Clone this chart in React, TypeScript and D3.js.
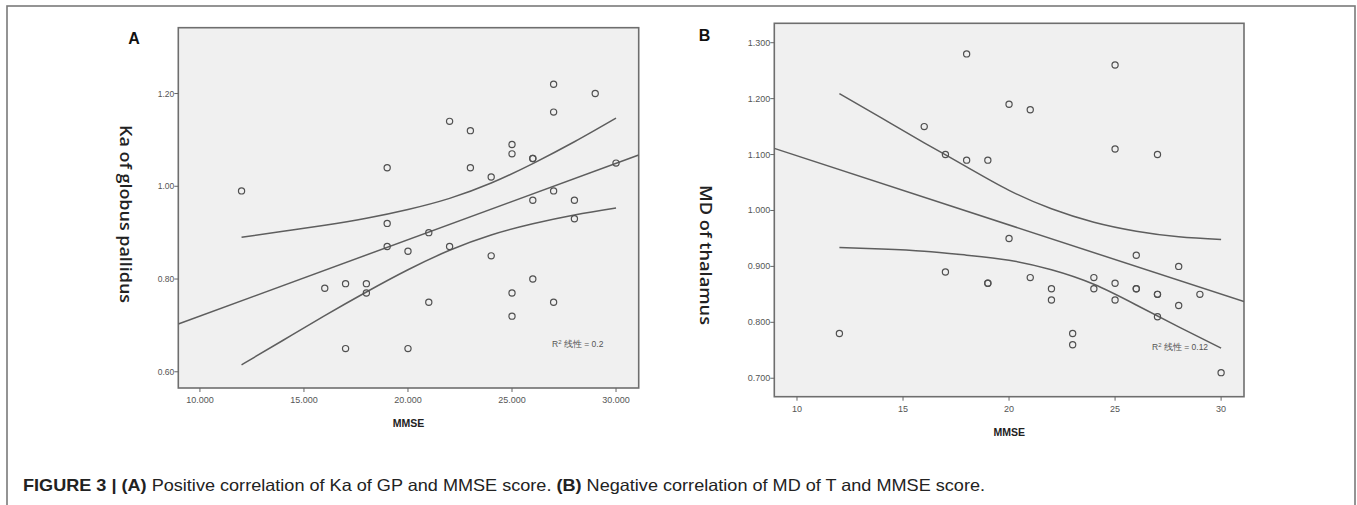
import * as d3 from "d3";
import React from "react";

// panel A: Ka of globus pallidus vs MMSE
const mmseA = [12, 16, 17, 17, 18, 18, 19, 19, 19, 20, 20, 21, 21, 22, 22, 23, 23, 24, 24, 25, 25, 25, 25, 26, 26, 26, 26, 27, 27, 27, 27, 28, 28, 29, 30];
const kaGP = [0.99, 0.78, 0.79, 0.65, 0.79, 0.77, 1.04, 0.92, 0.87, 0.86, 0.65, 0.9, 0.75, 1.14, 0.87, 1.12, 1.04, 1.02, 0.85, 1.09, 1.07, 0.77, 0.72, 1.06, 1.06, 0.97, 0.8, 1.22, 1.16, 0.99, 0.75, 0.97, 0.93, 1.2, 1.05];

// panel B: MD of thalamus vs MMSE
const mmseB = [12, 16, 17, 17, 18, 18, 19, 19, 19, 20, 20, 21, 21, 22, 22, 23, 23, 24, 24, 25, 25, 25, 25, 26, 26, 26, 27, 27, 27, 27, 28, 28, 29, 30];
const mdT = [0.78, 1.15, 1.1, 0.89, 1.28, 1.09, 1.09, 0.87, 0.87, 1.19, 0.95, 1.18, 0.88, 0.86, 0.84, 0.78, 0.76, 0.88, 0.86, 1.26, 1.11, 0.87, 0.84, 0.92, 0.86, 0.86, 1.1, 0.85, 0.85, 0.81, 0.9, 0.83, 0.85, 0.71];

// fit lines and 95% CI of mean
const fitA = [0.5554, 0.01647]; // intercept, slope
const fitB = [1.2215, -0.01237];
const ciX = [12, 14, 16, 18, 20, 22, 24, 26, 28, 30];
const ciLowA = [0.615, 0.668, 0.721, 0.772, 0.82, 0.862, 0.895, 0.919, 0.938, 0.953];
const ciHighA = [0.89, 0.903, 0.916, 0.931, 0.95, 0.974, 1.007, 1.049, 1.096, 1.147];
const ciLowB = [0.934, 0.931, 0.927, 0.92, 0.911, 0.894, 0.868, 0.831, 0.792, 0.754];
const ciHighB = [1.209, 1.165, 1.121, 1.078, 1.036, 1.003, 0.979, 0.963, 0.953, 0.948];

const xTicksA = [10, 15, 20, 25, 30];
const yTicksA = [0.6, 0.8, 1.0, 1.2];
const xTicksB = [10, 15, 20, 25, 30];
const yTicksB = [0.7, 0.8, 0.9, 1.0, 1.1, 1.2, 1.3];

const tickFont = "'Liberation Sans Narrow', 'Arial Narrow', 'Liberation Sans', sans-serif";
const labelFont = "'Open Sans', Lato, sans-serif";

type PanelProps = {
  id: string;
  letter: string;
  letterPos: [number, number];
  box: [number, number, number, number]; // left, top, right, bottom
  xDomain: [number, number];
  yDomain: [number, number];
  xs: number[];
  ys: number[];
  fit: number[];
  low: number[];
  high: number[];
  xTicks: number[];
  yTicks: number[];
  xFmt: (d: number) => string;
  yFmt: (d: number) => string;
  yTickSize: number;
  yLabel: string;
  yLabelPos: [number, number];
  yLabelLen: number;
  mmseY: number;
  r2Text: string;
  r2Pos: [number, number];
};

const Panel = (p: PanelProps) => {
  const [l, t, r, b] = p.box;
  const x = d3.scaleLinear().domain(p.xDomain).range([l, r]);
  const y = d3.scaleLinear().domain(p.yDomain).range([b, t]);
  const line = d3
    .line<[number, number]>()
    .x((d) => x(d[0]))
    .y((d) => y(d[1]))
    .curve(d3.curveNatural);
  const fitPts: [number, number][] = p.xDomain.map((v) => [v, p.fit[0] + p.fit[1] * v]);
  const lowPts = ciX.map((v, i) => [v, p.low[i]] as [number, number]);
  const highPts = ciX.map((v, i) => [v, p.high[i]] as [number, number]);
  const lineColor = "#5e5e5e";
  return (
    <g>
      <defs>
        <clipPath id={"clip" + p.id}>
          <rect x={l} y={t} width={r - l} height={b - t} />
        </clipPath>
      </defs>
      <rect x={l} y={t} width={r - l} height={b - t} fill="#f0f0f0" stroke="#6e6e6e" strokeWidth={1.6} />
      <g clipPath={`url(#clip${p.id})`} fill="none" stroke={lineColor} strokeWidth={1.5}>
        <path d={line(fitPts) || ""} />
        <path d={line(lowPts) || ""} />
        <path d={line(highPts) || ""} />
      </g>
      {p.xs.map((v, i) => (
        <circle key={i} cx={x(v)} cy={y(p.ys[i])} r={3.1} fill="none" stroke="#505050" strokeWidth={1.2} />
      ))}
      {p.yTicks.map((v) => (
        <g key={"y" + v}>
          <line x1={l - 4} x2={l} y1={y(v)} y2={y(v)} stroke="#666" strokeWidth={1} />
          <text x={l - 4} y={y(v) + 3} textAnchor="end" fontSize={p.yTickSize} fontFamily={tickFont} fill="#555">
            {p.yFmt(v)}
          </text>
        </g>
      ))}
      {p.xTicks.map((v) => (
        <g key={"x" + v}>
          <line x1={x(v)} x2={x(v)} y1={b} y2={b + 4} stroke="#666" strokeWidth={1} />
          <text x={x(v)} y={b + 15} textAnchor="middle" fontSize={9} fontFamily={tickFont} fill="#555">
            {p.xFmt(v)}
          </text>
        </g>
      ))}
      <text x={(l + r) / 2} y={p.mmseY} textAnchor="middle" fontSize={10.5} fontWeight="bold" fontFamily={tickFont} fill="#222">
        MMSE
      </text>
      <text
        transform={`translate(${p.yLabelPos[0]},${p.yLabelPos[1]}) rotate(90)`}
        textAnchor="middle"
        dominantBaseline="central"
        fontSize={17}
        fontWeight={600}
        fontFamily={labelFont}
        fill="#222"
        textLength={p.yLabelLen}
        lengthAdjust="spacingAndGlyphs"
      >
        {p.yLabel}
      </text>
      <text x={p.r2Pos[0]} y={p.r2Pos[1]} fontSize={8.5} fontFamily={tickFont} fill="#555">
        R<tspan dy={-3} fontSize={6}>2</tspan>
        <tspan dy={3}> {p.r2Text}</tspan>
      </text>
      <text x={p.letterPos[0]} y={p.letterPos[1]} textAnchor="middle" fontSize={16} fontWeight="bold" fontFamily="'Liberation Sans', Arial, sans-serif" fill="#111">
        {p.letter}
      </text>
    </g>
  );
};

const App = () => {
  return (
    <svg width={1357} height={505} style={{ position: "absolute", left: 0, top: 0, background: "#fff" }}>
      <rect x={7} y={6} width={1348} height={530} fill="none" stroke="#7a7a7a" strokeWidth={1.6} />
      <Panel
        id="A"
        letter="A"
        letterPos={[134, 43.5]}
        box={[178.3, 27.7, 638.7, 388]}
        xDomain={[8.96, 31.09]}
        yDomain={[0.565, 1.342]}
        xs={mmseA}
        ys={kaGP}
        fit={fitA}
        low={ciLowA}
        high={ciHighA}
        xTicks={xTicksA}
        yTicks={yTicksA}
        xFmt={d3.format(".3f")}
        yFmt={d3.format(".2f")}
        yTickSize={8.5}
        yLabel="Ka of globus pallidus"
        yLabelPos={[126, 214]}
        yLabelLen={178}
        mmseY={427}
        r2Text="线性 = 0.2"
        r2Pos={[552, 346.5]}
      />
      <Panel
        id="B"
        letter="B"
        letterPos={[704.6, 40.5]}
        box={[774.3, 23.3, 1244, 396.7]}
        xDomain={[8.93, 31.08]}
        yDomain={[0.667, 1.3347]}
        xs={mmseB}
        ys={mdT}
        fit={fitB}
        low={ciLowB}
        high={ciHighB}
        xTicks={xTicksB}
        yTicks={yTicksB}
        xFmt={d3.format("d")}
        yFmt={d3.format(".3f")}
        yTickSize={9}
        yLabel="MD of thalamus"
        yLabelPos={[706, 255]}
        yLabelLen={140}
        mmseY={436}
        r2Text="线性 = 0.12"
        r2Pos={[1152, 349.5]}
      />
      <text x={23} y={491} fontSize={16.5} fontFamily="'Liberation Sans', Arial, sans-serif" fill="#222" textLength={962} lengthAdjust="spacingAndGlyphs">
        <tspan fontWeight="bold">FIGURE 3 | (A)</tspan>
        <tspan> Positive correlation of Ka of GP and MMSE score. </tspan>
        <tspan fontWeight="bold">(B)</tspan>
        <tspan> Negative correlation of MD of T and MMSE score.</tspan>
      </text>
    </svg>
  );
};

export default App;
